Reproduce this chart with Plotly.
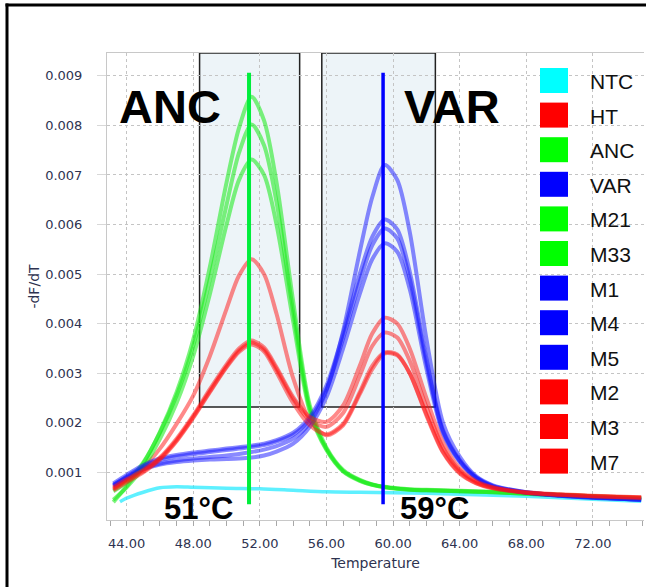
import plotly.graph_objects as go

# ---------------- data ----------------
temperature = [43.2, 44, 45, 46, 47, 48, 49, 50, 50.75, 51.5, 52.25, 53, 54, 55, 56, 57, 58,
               58.75, 59.5, 60.25, 61, 62, 63, 64, 65, 66, 68, 70, 72, 74.9]

ntc_temperature = [43.6, 44, 45, 46, 47, 48, 50, 52, 54, 56, 58, 60, 62, 64, 66, 68, 70, 72, 74.9]
ntc = [0.00041, 0.00048, 0.00060, 0.00069, 0.00071, 0.00070, 0.00068, 0.00067, 0.00064, 0.00061,
       0.00060, 0.00059, 0.00058, 0.00056, 0.00054, 0.00052, 0.00049, 0.00046, 0.00042]

ht = [0.00068, 0.00085, 0.00110, 0.00148, 0.00198, 0.00255, 0.00335, 0.00430, 0.00497, 0.00530,
      0.00500, 0.00420, 0.00290, 0.00205, 0.00175, 0.00195, 0.00258, 0.00308, 0.00340, 0.00336,
      0.00300, 0.00215, 0.00140, 0.00098, 0.00078, 0.00068, 0.00059, 0.00055, 0.00052, 0.00049]
anc = [0.00040, 0.00072, 0.00118, 0.00182, 0.00262, 0.00368, 0.00515, 0.00685, 0.00795, 0.00858,
       0.00810, 0.00685, 0.00445, 0.00235, 0.00150, 0.00105, 0.00085, 0.00076, 0.00071, 0.00068,
       0.00066, 0.00065, 0.00064, 0.00063, 0.00062, 0.00061, 0.00058, 0.00055, 0.00052, 0.00048]
var = [0.00075, 0.00090, 0.00108, 0.00118, 0.00124, 0.00128, 0.00131, 0.00134, 0.00137, 0.00141,
       0.00146, 0.00153, 0.00168, 0.00200, 0.00265, 0.00385, 0.00545, 0.00655, 0.00720, 0.00690,
       0.00585, 0.00370, 0.00200, 0.00132, 0.00092, 0.00074, 0.00060, 0.00054, 0.00050, 0.00045]
m21 = [0.00062, 0.00080, 0.00120, 0.00180, 0.00255, 0.00355, 0.00490, 0.00640, 0.00745, 0.00802,
       0.00760, 0.00645, 0.00425, 0.00228, 0.00147, 0.00103, 0.00084, 0.00075, 0.00070, 0.00067,
       0.00065, 0.00064, 0.00063, 0.00062, 0.00061, 0.00060, 0.00057, 0.00054, 0.00051, 0.00047]
m33 = [0.00045, 0.00070, 0.00110, 0.00168, 0.00240, 0.00335, 0.00460, 0.00600, 0.00690, 0.00731,
       0.00700, 0.00600, 0.00405, 0.00222, 0.00145, 0.00102, 0.00083, 0.00075, 0.00070, 0.00067,
       0.00065, 0.00064, 0.00063, 0.00062, 0.00061, 0.00060, 0.00057, 0.00054, 0.00051, 0.00047]
m1 = [0.00078, 0.00095, 0.00115, 0.00128, 0.00135, 0.00140, 0.00144, 0.00148, 0.00151, 0.00154,
      0.00158, 0.00165, 0.00180, 0.00212, 0.00275, 0.00380, 0.00500, 0.00575, 0.00610, 0.00590,
      0.00505, 0.00330, 0.00185, 0.00125, 0.00090, 0.00073, 0.00060, 0.00054, 0.00050, 0.00045]
m4 = [0.00074, 0.00092, 0.00112, 0.00125, 0.00132, 0.00137, 0.00141, 0.00145, 0.00148, 0.00151,
      0.00155, 0.00162, 0.00176, 0.00207, 0.00268, 0.00370, 0.00485, 0.00558, 0.00592, 0.00572,
      0.00490, 0.00322, 0.00182, 0.00123, 0.00089, 0.00072, 0.00059, 0.00053, 0.00049, 0.00045]
m5 = [0.00072, 0.00088, 0.00106, 0.00116, 0.00121, 0.00124, 0.00126, 0.00127, 0.00128, 0.00130,
      0.00134, 0.00142, 0.00158, 0.00192, 0.00252, 0.00350, 0.00460, 0.00530, 0.00562, 0.00545,
      0.00470, 0.00310, 0.00178, 0.00121, 0.00088, 0.00071, 0.00059, 0.00053, 0.00049, 0.00045]
m2 = [0.00070, 0.00086, 0.00105, 0.00130, 0.00168, 0.00215, 0.00268, 0.00318, 0.00350, 0.00366,
      0.00352, 0.00312, 0.00252, 0.00212, 0.00202, 0.00235, 0.00315, 0.00380, 0.00412, 0.00400,
      0.00350, 0.00250, 0.00160, 0.00108, 0.00082, 0.00070, 0.00060, 0.00056, 0.00053, 0.00050]
m3 = [0.00066, 0.00083, 0.00102, 0.00128, 0.00165, 0.00212, 0.00264, 0.00314, 0.00346, 0.00362,
      0.00348, 0.00308, 0.00248, 0.00205, 0.00192, 0.00220, 0.00295, 0.00355, 0.00382, 0.00372,
      0.00325, 0.00232, 0.00150, 0.00104, 0.00080, 0.00069, 0.00059, 0.00055, 0.00052, 0.00049]
m7 = [0.00064, 0.00080, 0.00100, 0.00126, 0.00163, 0.00210, 0.00262, 0.00312, 0.00343, 0.00358,
      0.00344, 0.00302, 0.00240, 0.00195, 0.00177, 0.00198, 0.00262, 0.00315, 0.00342, 0.00338,
      0.00300, 0.00218, 0.00142, 0.00100, 0.00078, 0.00068, 0.00059, 0.00055, 0.00052, 0.00049]

legend_names = ["NTC", "HT", "ANC", "VAR", "M21", "M33", "M1", "M4", "M5", "M2", "M3", "M7"]
legend_groups = ["cyan", "red", "green", "blue", "green", "green", "blue", "blue", "blue", "red", "red", "red"]

melt_temps = [51.35, 59.4]          # Tm markers
melt_labels = ["51°C", "59°C"]
region_names = ["ANC", "VAR"]
region_x0 = [48.38, 55.72]
region_x1 = [54.39, 62.54]
region_bottom = 0.00232

x_range = [42.82, 75.07]
y_range = [0.00004, 0.00946]

# ---------------- style ----------------
solid = {"cyan": "#00ffff", "red": "#ff0000", "green": "#00ff00", "blue": "#0000ff"}
curve = {"cyan": "rgba(40,235,255,0.75)", "red": "rgba(255,20,20,0.5)",
         "green": "rgba(20,235,20,0.55)", "blue": "rgba(20,20,255,0.5)"}

W, H = 646, 587
ML, MR, MT, MB = 107, 2, 53, 67
PW, PH = W - ML - MR, H - MT - MB


def px_x(p):
    return (p - ML) / PW


def px_y(p):
    return (H - MB - p) / PH


fig = go.Figure()

series = {"HT": ht, "ANC": anc, "VAR": var, "M21": m21, "M33": m33, "M1": m1,
          "M4": m4, "M5": m5, "M2": m2, "M3": m3, "M7": m7}

fig.add_trace(go.Scatter(x=ntc_temperature, y=ntc, mode="lines", name="NTC",
                         line=dict(color=curve["cyan"], width=3.5, shape="spline", smoothing=0.8),
                         showlegend=False))
for name, grp in zip(legend_names, legend_groups):
    if name == "NTC":
        continue
    fig.add_trace(go.Scatter(x=temperature, y=series[name], mode="lines", name=name,
                             line=dict(color=curve[grp], width=4, shape="spline", smoothing=0.8),
                             showlegend=False))

# Tm vertical markers
tm_colors = ["rgb(0,238,60)", "#0000ff"]
tm_widths = [4, 3.5]
for tm, c, w in zip(melt_temps, tm_colors, tm_widths):
    fig.add_trace(go.Scatter(x=[tm, tm], y=[0.00906, 0.00036], mode="lines",
                             line=dict(color=c, width=w), showlegend=False, hoverinfo="skip"))

shapes = []
for x0, x1 in zip(region_x0, region_x1):
    shapes.append(dict(type="rect", xref="x", yref="y", x0=x0, x1=x1, y0=region_bottom,
                       y1=y_range[1], fillcolor="rgb(237,244,248)",
                       line=dict(color="#222222", width=1.5), layer="below"))

# outer frame (left and top black lines)
shapes.append(dict(type="line", xref="paper", yref="paper", layer="above",
                   x0=px_x(7), x1=px_x(7), y0=px_y(H + 5), y1=px_y(3.5),
                   line=dict(color="black", width=3)))
shapes.append(dict(type="line", xref="paper", yref="paper", layer="above",
                   x0=px_x(5.5), x1=px_x(W + 5), y0=px_y(5), y1=px_y(5),
                   line=dict(color="black", width=3)))

annotations = []
# custom legend
for i, (name, grp) in enumerate(zip(legend_names, legend_groups)):
    cy = 80.5 + i * 34.6
    shapes.append(dict(type="rect", xref="paper", yref="paper",
                       x0=px_x(540), x1=px_x(568), y0=px_y(cy - 12.5), y1=px_y(cy + 12.5),
                       fillcolor=solid[grp], line=dict(width=0), layer="above"))
    annotations.append(dict(xref="paper", yref="paper", x=px_x(588), y=px_y(cy + 1),
                            text=name, showarrow=False, xanchor="left", yanchor="middle",
                            font=dict(family="Liberation Sans, Arial", size=21, color="#111111")))

# big region labels
for name, xc in zip(region_names, [46.6, 63.54]):
    annotations.append(dict(x=xc, y=0.00839, xref="x", yref="y", text=name, showarrow=False,
                            xanchor="center", yanchor="middle",
                            font=dict(family="Liberation Sans, Arial", size=47, color="black",
                                      weight="bold")))
for lab, xc in zip(melt_labels, [48.34, 62.46]):
    annotations.append(dict(x=xc, y=0.000278, xref="x", yref="y", text=lab, showarrow=False,
                            xanchor="center", yanchor="middle",
                            font=dict(family="Liberation Sans, Arial", size=31, color="black",
                                      weight="bold")))

tick_font = dict(family="DejaVu Sans", size=13, color="#2e3350")

fig.update_layout(
    width=W, height=H, autosize=False,
    margin=dict(l=ML, r=MR, t=MT, b=MB, pad=0),
    paper_bgcolor="white", plot_bgcolor="white",
    shapes=shapes, annotations=annotations, showlegend=False,
    xaxis=dict(range=x_range, tick0=44, dtick=4, tickformat=".2f",
               showgrid=True, gridcolor="#c4c4c4", griddash="dot", gridwidth=1,
               showline=True, linecolor="#c8c8c8", linewidth=1, mirror=True,
               ticks="outside", ticklen=5, tickcolor="#a8a8a8", ticklabelstandoff=6,
               minor=dict(dtick=1, tick0=44, ticks="outside", ticklen=5, tickcolor="#a8a8a8",
                          showgrid=False),
               tickfont=tick_font, zeroline=False,
               title=dict(text="Temperature", font=dict(family="DejaVu Sans", size=14, color="#2e3350"),
                          standoff=8)),
    yaxis=dict(range=y_range, tick0=0.001, dtick=0.001, tickformat=".3f",
               showgrid=True, gridcolor="#c4c4c4", griddash="dot", gridwidth=1,
               showline=True, linecolor="#c8c8c8", linewidth=1,
               ticks="outside", ticklen=9, tickcolor="#d8d8d8", ticklabelstandoff=12,
               tickfont=tick_font, zeroline=False,
               title=dict(text="-dF/dT", font=dict(family="DejaVu Sans", size=14, color="#2e3350"),
                          standoff=2)),
)

fig.write_html("out.html", config={"displayModeBar": False},
               post_script="document.body.style.margin='0px';"
                           "document.body.style.overflow='hidden';"
                           "document.documentElement.style.overflow='hidden';")
